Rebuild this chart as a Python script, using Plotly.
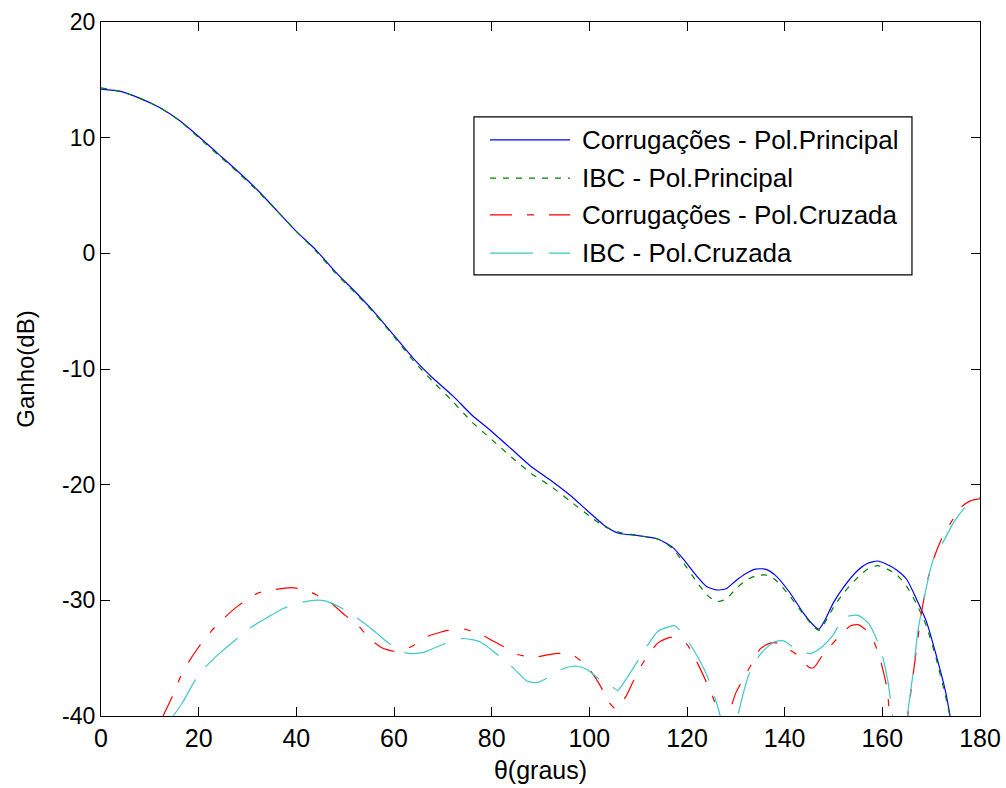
import plotly.graph_objects as go

# Radiation pattern: co-polar and cross-polar gain, corrugated horn vs IBC model
theta_corr_pp = [0, 4, 8, 12, 16, 20, 24, 28, 32, 36, 40, 44, 48, 52, 56, 60, 64, 68, 72,
                 76, 80, 84, 88, 92, 96, 100, 103, 106, 110, 114, 117, 119, 122, 124, 126,
                 128, 130, 132, 134, 136, 138, 141, 144, 146, 147, 148, 150, 152, 155, 157,
                 159, 161, 163, 165, 167, 169, 171, 173, 174]
gain_corr_pp = [14.2, 14.0, 13.4, 12.6, 11.5, 10.1, 8.6, 7.1, 5.5, 3.7, 1.9, 0.3, -1.6, -3.3,
                -5.1, -7.1, -9.1, -10.8, -12.3, -14.0, -15.4, -16.9, -18.4, -19.6, -20.9,
                -22.4, -23.5, -24.2, -24.4, -24.7, -25.4, -26.3, -27.9, -28.8, -29.1, -29.0,
                -28.3, -27.7, -27.3, -27.3, -27.8, -29.3, -31.2, -32.2, -32.5, -31.9, -30.2,
                -28.9, -27.4, -26.8, -26.6, -26.9, -27.4, -28.2, -29.9, -31.8, -34.7, -38.0,
                -40.3]

theta_ibc_pp = [0, 4, 8, 12, 16, 20, 24, 28, 32, 36, 40, 44, 48, 52, 56, 60, 64, 68, 72,
                76, 80, 84, 88, 92, 96, 100, 103, 106, 110, 114, 117, 119, 122, 124, 126,
                128, 130, 132, 134, 136, 138, 141, 144, 146, 147, 148, 150, 152, 155, 157,
                159, 161, 163, 165, 167, 169, 171, 173, 174]
gain_ibc_pp = [14.3, 14.0, 13.4, 12.6, 11.5, 10.0, 8.5, 7.0, 5.4, 3.7, 1.9, 0.2, -1.7, -3.4,
               -5.2, -7.2, -9.3, -11.1, -12.8, -14.6, -16.1, -17.6, -19.0, -20.1, -21.4,
               -22.7, -23.6, -24.1, -24.4, -24.7, -25.5, -26.6, -28.4, -29.5, -30.1, -29.9,
               -29.0, -28.3, -27.9, -27.8, -28.2, -29.6, -31.3, -32.3, -32.6, -32.1, -30.6,
               -29.4, -28.0, -27.3, -27.0, -27.3, -27.8, -28.8, -30.3, -32.2, -35.0, -38.4,
               -40.3]

theta_corr_xp = [12.7, 14.5, 16.2, 18, 19.9, 22.7, 25, 28, 32, 35, 39, 42, 44, 47, 50, 52.5,
                 55, 57.5, 60, 62, 64, 67, 71, 74.5, 78, 82, 85.5, 89, 93, 96.5, 99.5, 102,
                 104, 105.5, 107.5, 109, 111, 114, 116.5, 118.5, 120, 122, 124, 125.5, 126.5,
                 127.5, 128.5, 130, 131.5, 133.5, 135, 137, 138.5, 140, 142.5, 145, 146, 148,
                 151, 153.5, 155, 157, 158.5, 159.7, 161, 161.5, 163.3, 165.2, 166.5, 168,
                 169.3, 170.6, 172, 174, 176, 178, 180]
gain_corr_xp = [-40.0, -38.4, -36.7, -35.3, -34.1, -32.6, -31.6, -30.5, -29.4, -29.1, -28.9,
                -29.1, -29.5, -30.2, -31.3, -32.1, -33.3, -34.1, -34.4, -34.3, -33.9, -33.1,
                -32.6, -32.5, -33.0, -33.9, -34.7, -34.9, -34.6, -34.7, -35.7, -37.2, -38.8,
                -39.4, -38.3, -37.0, -35.4, -33.7, -33.2, -33.4, -33.8, -35.3, -37.1, -38.6,
                -40.0, -42.0, -40.0, -38.0, -36.8, -35.3, -34.2, -33.7, -33.7, -34.0, -34.7,
                -35.8, -35.8, -34.6, -33.2, -32.2, -32.1, -32.7, -33.8, -35.3, -37.7, -40.0,
                -46.0, -40.0, -35.8, -31.1, -28.2, -26.3, -24.8, -23.3, -22.0, -21.4, -21.2]

theta_ibc_xp = [14.8, 16.6, 19.3, 21.3, 24.5, 27.9, 30.5, 34, 37.3, 40.8, 43.5, 45.3, 47, 49,
                51.7, 55.8, 58.6, 61.9, 64, 66, 69.5, 72, 74.2, 77.7, 81.2, 84.3, 87.3, 89.4,
                91.4, 94.1, 96.5, 97.6, 99.6, 102, 104.8, 105.8, 107.4, 109.1, 111.9, 114,
                116.2, 117.5, 119.7, 122.2, 124.2, 126.3, 126.8, 128.5, 130.4, 132.6, 135.1,
                137.8, 139.8, 142.9, 145.3, 147.4, 149.9, 152.1, 155, 157.2, 159.7, 161.1,
                162, 163.5, 165.2, 166.3, 167.3, 168.6, 170.4, 172.4, 174.7, 177.1, 180]
gain_ibc_xp = [-40.0, -38.9, -36.9, -35.8, -34.5, -33.3, -32.4, -31.5, -30.7, -30.2, -30.0,
               -30.0, -30.2, -30.6, -31.3, -32.6, -33.6, -34.5, -34.6, -34.5, -33.9, -33.5,
               -33.3, -33.6, -34.7, -35.8, -37.0, -37.1, -36.7, -36.0, -35.7, -35.7, -36.0,
               -36.8, -37.5, -37.8, -36.9, -35.8, -33.9, -32.7, -32.3, -32.2, -33.2, -34.9,
               -36.6, -39.2, -40.0, -44.0, -40.0, -36.5, -34.6, -33.6, -33.5, -34.4, -34.6,
               -34.1, -33.0, -31.5, -31.3, -32.0, -34.3, -36.9, -39.7, -45.0, -39.7, -36.3,
               -32.6, -29.7, -26.5, -25.0, -23.2, -21.9, -21.1]

series_names = ["Corrugações - Pol.Principal", "IBC - Pol.Principal",
                "Corrugações - Pol.Cruzada", "IBC - Pol.Cruzada"]
series_x = [theta_corr_pp, theta_ibc_pp, theta_corr_xp, theta_ibc_xp]
series_y = [gain_corr_pp, gain_ibc_pp, gain_corr_xp, gain_ibc_xp]
series_colors = ["#0000FF", "#008000", "#FF0000", "#3FC8C8"]
series_dash = ["solid", "6px,7px", "22px,15px,7px,15px", "43px,16px"]

x_ticks = [0, 20, 40, 60, 80, 100, 120, 140, 160, 180]
y_ticks = [-40, -30, -20, -10, 0, 10, 20]

FONT = "Liberation Sans, Arial, sans-serif"

fig = go.Figure()
for name, xs, ys, col, dash in zip(series_names, series_x, series_y, series_colors, series_dash):
    fig.add_trace(go.Scatter(
        x=xs, y=ys, name=name, mode="lines",
        line=dict(color=col, width=1.2, dash=dash, shape="spline", smoothing=0.6),
        showlegend=False,
    ))

# Boxed legend in the upper right of the axes, with long line samples
leg_x0, leg_x1 = 0.4243, 0.9226
leg_y0, leg_y1 = 0.6357, 0.8632
row_y = [0.8301, 0.7749, 0.7221, 0.6670]
sample_x0, sample_x1, text_x = 0.4425, 0.5336, 0.5449

fig.add_shape(type="rect", xref="paper", yref="paper",
              x0=leg_x0, x1=leg_x1, y0=leg_y0, y1=leg_y1,
              line=dict(color="black", width=1.2), fillcolor="white", layer="above")
for name, col, dash, ry in zip(series_names, series_colors, series_dash, row_y):
    fig.add_shape(type="line", xref="paper", yref="paper",
                  x0=sample_x0, x1=sample_x1, y0=ry, y1=ry,
                  line=dict(color=col, width=1.2, dash=dash), layer="above")
    fig.add_annotation(xref="paper", yref="paper", x=text_x, y=ry,
                       text=name, showarrow=False, xanchor="left", yanchor="middle",
                       font=dict(family=FONT, size=26, color="black"))

axis_common = dict(
    showline=True, linecolor="black", linewidth=1.2, mirror="ticks",
    ticks="inside", ticklen=9, tickwidth=1, tickcolor="black",
    showgrid=False, zeroline=False,
)

fig.update_xaxes(range=[0, 180], tickvals=x_ticks, ticktext=[str(v) for v in x_ticks],
                 tickfont=dict(family=FONT, size=25, color="black"),
                 title=dict(text="θ(graus)", font=dict(family=FONT, size=25, color="black"),
                            standoff=10),
                 **axis_common)
fig.update_yaxes(range=[-40, 20], tickvals=y_ticks, ticktext=[str(v) for v in y_ticks],
                 tickfont=dict(family=FONT, size=23, color="black"),
                 title=dict(text="Ganho(dB)", font=dict(family=FONT, size=24, color="black"),
                            standoff=20),
                 **axis_common)

fig.update_layout(
    width=1006, height=788,
    margin=dict(l=101, r=26, t=22, b=72, autoexpand=False),
    paper_bgcolor="white", plot_bgcolor="white",
    font=dict(family=FONT, color="black"),
)

fig.write_html("out.html")
